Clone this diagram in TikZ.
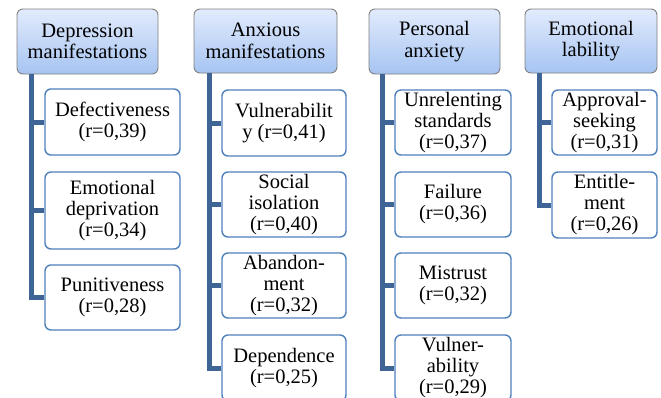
\documentclass[tikz,border=0pt]{standalone}
\usepackage{fontspec}
\setmainfont{Liberation Serif}
\newfontfamily\tnr{Liberation Serif}
\definecolor{hdtop}{RGB}{226,235,252}
\definecolor{hdbot}{RGB}{166,196,242}
\definecolor{hdline}{RGB}{128,128,128}
\definecolor{chline}{RGB}{79,129,189}
\definecolor{trunkc}{RGB}{62,101,150}
\tikzset{
  hdbox/.style={draw=hdline, line width=0.9pt, rounded corners=6pt, top color=hdtop, bottom color=hdbot,
    align=center, inner sep=0pt, font=\tnr\fontsize{20.5}{21.5}\selectfont},
  chbox/.style={draw=chline, line width=1.4pt, rounded corners=6pt, fill=white,
    align=center, inner sep=0pt, font=\tnr\fontsize{20.5}{21}\selectfont},
  trunk/.style={draw=trunkc, line width=5pt, line join=miter}
}
\begin{document}
\begin{tikzpicture}[x=1pt,y=-1pt]
\useasboundingbox (0,0) rectangle (661,397);
\clip (0,0) rectangle (661,397);
\fill[white] (0,0) rectangle (661,397);
% trunk x coordinates
\coordinate (t1) at (31,0);
\coordinate (t2) at (209,0);
\coordinate (t3) at (382.5,0);
\coordinate (t4) at (539.5,0);
% headers
\node[hdbox, minimum width=141pt, minimum height=65pt] (h1) at (87.5,41.5) {Depression\\manifestations};
\node[hdbox, minimum width=143pt, minimum height=64pt] (h2) at (265.5,41) {Anxious\\manifestations};
\node[hdbox, minimum width=131pt, minimum height=65pt] (h3) at (434.5,41.5) {Personal\\anxiety};
\node[hdbox, minimum width=132pt, minimum height=64pt] (h4) at (591,41) {Emotional\\lability};
% column 1
\node[chbox, minimum width=135pt, minimum height=66pt] (a1) at (112.5,122) {Defectiveness\\(r=0,39)};
\node[chbox, minimum width=135pt, minimum height=77pt] (a2) at (112.5,210.5) {Emotional\\deprivation\\(r=0,34)};
\node[chbox, minimum width=135pt, minimum height=65pt] (a3) at (112.5,297.5) {Punitiveness\\(r=0,28)};
% column 2
\node[chbox, minimum width=124pt, minimum height=66pt] (b1) at (284,123) {Vulnerabilit\\y (r=0,41)};
\node[chbox, minimum width=124pt, minimum height=65pt] (b2) at (284,204.5) {Social\\isolation\\(r=0,40)};
\node[chbox, minimum width=124pt, minimum height=65pt] (b3) at (284,285.5) {Abandon-\\ment\\(r=0,32)};
\node[chbox, minimum width=124pt, minimum height=66pt] (b4) at (284,368) {Dependence\\(r=0,25)};
% column 3
\node[chbox, minimum width=116pt, minimum height=65pt] (c1) at (453,122.5) {Unrelenting\\standards\\(r=0,37)};
\node[chbox, minimum width=116pt, minimum height=65pt] (c2) at (453,204.5) {Failure\\(r=0,36)};
\node[chbox, minimum width=116pt, minimum height=65pt] (c3) at (453,285.5) {Mistrust\\(r=0,32)};
\node[chbox, minimum width=116pt, minimum height=66pt] (c4) at (453,368) {Vulner-\\ability\\(r=0,29)};
% column 4
\node[chbox, minimum width=105pt, minimum height=65pt] (d1) at (604.5,122.5) {Approval-\\seeking\\(r=0,31)};
\node[chbox, minimum width=105pt, minimum height=66pt] (d2) at (604.5,205) {Entitle-\\ment\\(r=0,26)};
% connectors
\foreach \c in {a1,a2,a3} \draw[trunk] (h1.south -| t1) |- (\c.west);
\foreach \c in {b1,b2,b3,b4} \draw[trunk] (h2.south -| t2) |- (\c.west);
\foreach \c in {c1,c2,c3,c4} \draw[trunk] (h3.south -| t3) |- (\c.west);
\foreach \c in {d1,d2} \draw[trunk] (h4.south -| t4) |- (\c.west);
\end{tikzpicture}
\end{document}
